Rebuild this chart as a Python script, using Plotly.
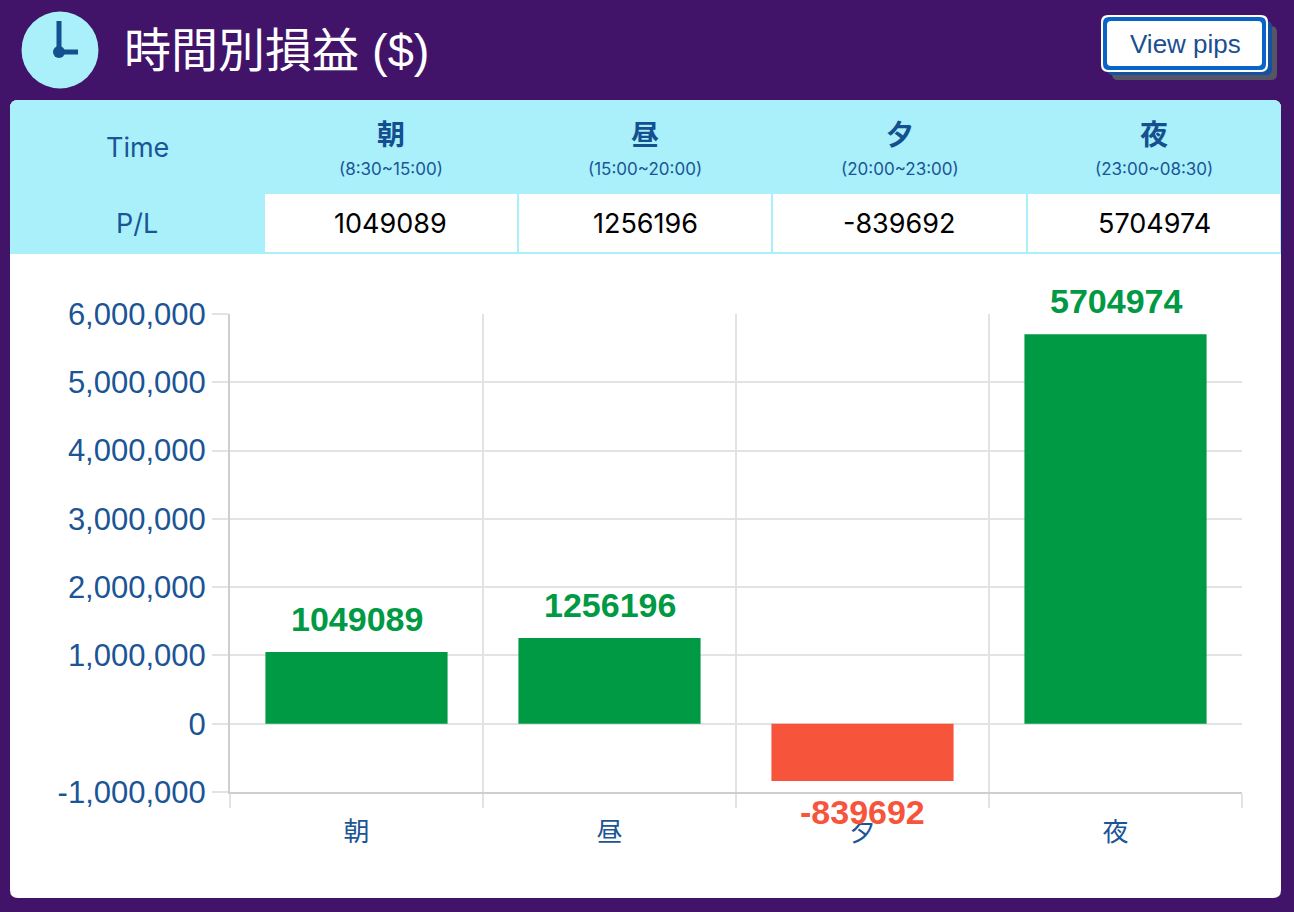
import plotly.graph_objects as go

W, H = 1294, 912

# data
periods = ["朝", "昼", "夕", "夜"]
period_hours = ["(8:30~15:00)", "(15:00~20:00)", "(20:00~23:00)", "(23:00~08:30)"]
pl_values = [1049089, 1256196, -839692, 5704974]
y_ticks = [-1000000, 0, 1000000, 2000000, 3000000, 4000000, 5000000, 6000000]
y_ticktext = [f"{v:,}" for v in y_ticks]

PURPLE = "#411369"
CYAN = "#A9F0FA"
BLUE_TXT = "#1B5595"
GREEN = "#009944"
RED = "#F6553C"
GRID = "#E3E3E3"


def px(x):
    return x / W


def py(y):
    return 1 - y / H


def rrect(x0, y0, x1, y1, r=0, top=True, bottom=True):
    """rounded rect path in pixel coords -> paper coords"""
    rt = r if top else 0
    rb = r if bottom else 0
    pts = [
        f"M{px(x0 + rt)},{py(y0)}",
        f"L{px(x1 - rt)},{py(y0)}",
        f"Q{px(x1)},{py(y0)} {px(x1)},{py(y0 + rt)}",
        f"L{px(x1)},{py(y1 - rb)}",
        f"Q{px(x1)},{py(y1)} {px(x1 - rb)},{py(y1)}",
        f"L{px(x0 + rb)},{py(y1)}",
        f"Q{px(x0)},{py(y1)} {px(x0)},{py(y1 - rb)}",
        f"L{px(x0)},{py(y0 + rt)}",
        f"Q{px(x0)},{py(y0)} {px(x0 + rt)},{py(y0)}",
        "Z",
    ]
    return " ".join(pts)


shapes = []
annotations = []


def box(x0, y0, x1, y1, color, r=0, top=True, bottom=True):
    shapes.append(dict(type="path", xref="paper", yref="paper",
                       path=rrect(x0, y0, x1, y1, r, top, bottom),
                       fillcolor=color, line=dict(width=0), layer="below"))


def label(x, y, text, size, color, family="Noto Sans CJK JP", xanchor="center", weight="normal"):
    annotations.append(dict(x=px(x), y=py(y), xref="paper", yref="paper", text=text,
                            showarrow=False, xanchor=xanchor, yanchor="middle",
                            font=dict(size=size, color=color, family=family, weight=weight)))


# card
box(10, 100, 1281, 898, "white", r=8)
box(10, 100, 1281, 193, CYAN, r=8, bottom=False)
box(10, 193, 1281, 254, CYAN)

cols = [10, 264, 518, 772, 1027, 1281]
for i in range(len(periods)):
    box(cols[i + 1] + 1, 194, cols[i + 2] - 1, 252, "white")

label(137, 147, "Time", 27, BLUE_TXT, family="Inter")
label(137, 223, "P/L", 27, BLUE_TXT, family="Inter")
for i, p in enumerate(periods):
    cx = (cols[i + 1] + cols[i + 2]) / 2
    label(cx, 133, p, 28, "#144F90", weight="bold")
    label(cx, 169, period_hours[i], 17, BLUE_TXT, family="Inter")
    label(cx, 223, str(pl_values[i]), 27, "black", family="Inter")

# clock icon
shapes.append(dict(type="circle", xref="paper", yref="paper",
                   x0=px(60 - 38.5), x1=px(60 + 38.5), y0=py(50 + 38.5), y1=py(50 - 38.5),
                   fillcolor=CYAN, line=dict(width=0)))
shapes.append(dict(type="line", xref="paper", yref="paper", x0=px(59), y0=py(21), x1=px(59), y1=py(52),
                   line=dict(color="#12508F", width=5)))
shapes.append(dict(type="line", xref="paper", yref="paper", x0=px(59), y0=py(52), x1=px(78), y1=py(52),
                   line=dict(color="#12508F", width=5)))
shapes.append(dict(type="circle", xref="paper", yref="paper",
                   x0=px(53), x1=px(65), y0=py(58), y1=py(46),
                   fillcolor="#12508F", line=dict(width=0)))
label(122, 50, "時間別損益 ($)", 47, "white", family="Liberation Sans, Noto Sans CJK JP", xanchor="left")

# button
box(1112, 26, 1277, 80, "#555566", r=6)
box(1107, 21, 1272, 75, "#1452A0", r=6)
box(1101, 15, 1268, 72, "white", r=7)
box(1103, 17, 1266, 70, "#0A64C8", r=6)
box(1107, 21, 1262, 66, "white", r=4)
label(1185, 44, "View pips", 26, "#1A4F8F", family="Liberation Sans")

# bar labels
for p, v in zip(periods, pl_values):
    pos = v >= 0
    annotations.append(dict(x=p, y=v, xref="x", yref="y", text=str(v), showarrow=False,
                            xanchor="center", yanchor="bottom" if pos else "top",
                            yshift=12 if pos else -10,
                            font=dict(size=34, color=GREEN if pos else RED,
                                      family="Liberation Sans", weight="bold")))

fig = go.Figure()
fig.add_trace(go.Bar(x=periods, y=pl_values,
                     marker=dict(color=[GREEN if v >= 0 else RED for v in pl_values], line=dict(width=0)),
                     hoverinfo="skip"))

fig.update_layout(
    width=W, height=H,
    margin=dict(l=0, r=0, t=0, b=0, autoexpand=False),
    paper_bgcolor=PURPLE,
    plot_bgcolor="rgba(0,0,0,0)",
    bargap=0.28,
    showlegend=False,
    shapes=shapes,
    annotations=annotations,
    xaxis=dict(domain=[px(230), px(1242)], type="category", range=[-0.5, 3.5], automargin=False,
               tickson="boundaries", ticks="outside", ticklen=14, tickcolor=GRID, tickwidth=1.5,
               showgrid=True, gridcolor=GRID, gridwidth=1.5,
               showline=True, linecolor="#CFCFCF", linewidth=2,
               tickfont=dict(family="Noto Sans CJK JP", size=26, color=BLUE_TXT),
               ticklabelstandoff=16, fixedrange=True),
    yaxis=dict(domain=[py(792), py(314)], range=[-1000000, 6000000], automargin=False,
               tickvals=y_ticks, ticktext=y_ticktext,
               ticks="outside", ticklen=16, tickcolor=GRID, tickwidth=1.5,
               showgrid=True, gridcolor=GRID, gridwidth=1.5, zeroline=False,
               showline=True, linecolor="#CFCFCF", linewidth=2,
               tickfont=dict(family="Liberation Sans", size=31, color=BLUE_TXT),
               fixedrange=True),
)

fig.write_html("out.html", config={"displayModeBar": False},
               post_script="document.body.style.margin='0';document.body.style.overflow='hidden';")
